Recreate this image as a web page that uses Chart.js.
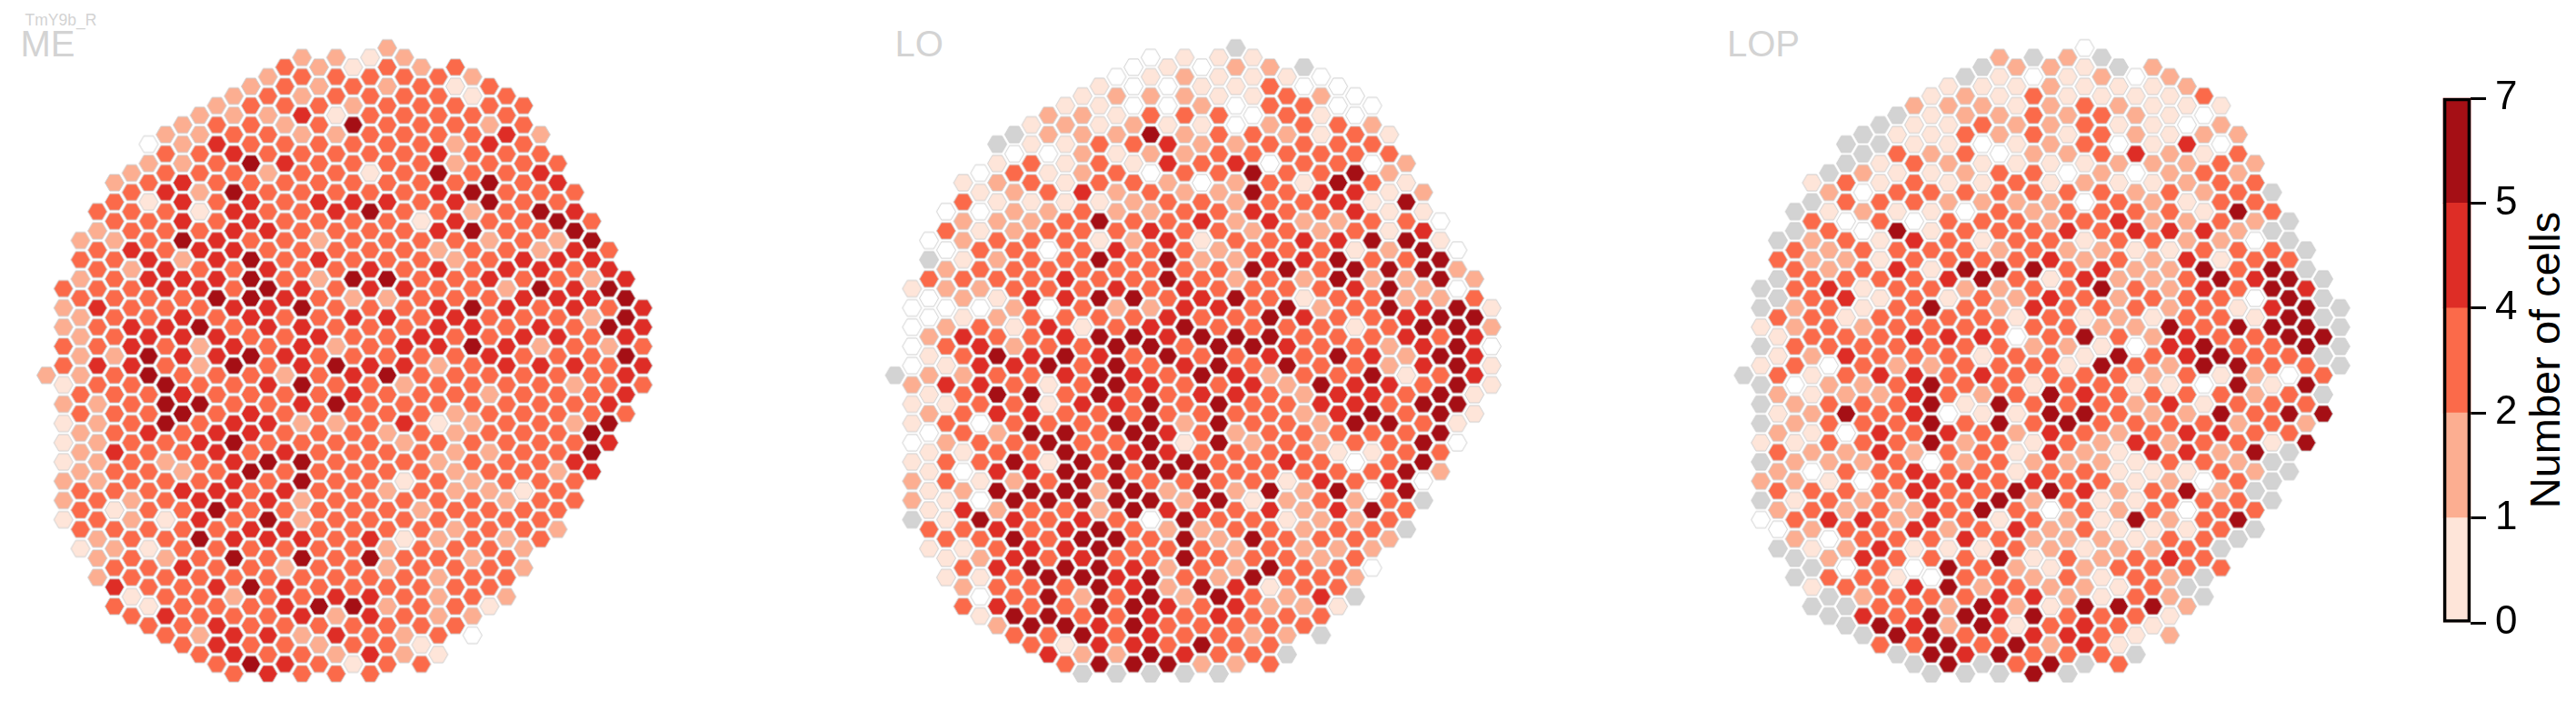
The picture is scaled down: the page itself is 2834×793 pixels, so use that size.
<!DOCTYPE html>
<html>
<head>
<meta charset="utf-8">
<script src="https://cdn.jsdelivr.net/npm/chart.js@4/dist/chart.umd.js"></script>
<style>
html,body{margin:0;padding:0;background:#fff;width:2834px;height:793px;overflow:hidden;font-family:"Liberation Sans",Arial,sans-serif}
canvas{position:absolute;top:0}
.t{position:absolute;white-space:nowrap;line-height:1}
.p{font-size:40px;color:#d3d3d3;top:27.5px}
</style>
</head>
<body>
<div class="t" style="left:27.5px;top:13.5px;font-size:17.5px;color:#d3d3d3">TmY9b_R</div>
<div class="t p" style="left:22.5px">ME</div>
<div class="t p" style="left:984.5px">LO</div>
<div class="t p" style="left:1900px">LOP</div>
<div class="t" id="cbt" style="left:2799px;top:396px;font-size:47px;color:#000;transform:translate(-50%,-50%) rotate(-90deg)">Number of cells</div>
<canvas id="c0"></canvas><canvas id="c1"></canvas><canvas id="c2"></canvas><canvas id="c3"></canvas>
<script>
// Each row: [first column, cell values at every second column]. g = no data (grey).
const ME_ROWS=[[20,"2"],[15,"2212"],[14,"321323"],[13,"2333332"],[12,"23232313"],[11,"232333313"],[10,"2333233333"],[9,"2224133333"],[8,"23323533323"],[7,"223322333342"],[6,"024333333243"],[7,"334333334333"],[6,"2235433332333"],[5,"2333233135334"],[4,"23433333333534"],[5,"34253333345333"],[4,"31434344434533"],[3,"333143345332354"],[4,"334343333143353"],[3,"233344333345335"],[2,"2235433233332325"],[3,"3434433333233243"],[2,"3342453433323444"],[3,"3243343343434434"],[2,"23444532553343324"],[1,"33344354344332545"],[2,"33335543223334445"],[1,"243334453334543434"],[2,"23343433443433325"],[1,"234453443334434354"],[2,"23444334334334434"],[1,"334324342344542323"],[2,"22544543333343335"],[1,"344325345442344434"],[0,"223533323453333334"],[1,"133533453323333233"],[2,"33343333433323334"],[1,"22355334533333334"],[2,"33353433333233333"],[1,"12353442234123325"],[2,"2343443332323335"],[1,"12334533332333334"],[2,"2433434333322335"],[1,"1232345533323334"],[2,"2332353333323324"],[1,"2233343533132333"],[2,"333443433232213"],[1,"2323444233333233"],[2,"313353333323333"],[1,"132143523333333"],[2,"333334433332332"],[3,"23354443412323"],[2,"12133333323332"],[3,"2323535353323"],[4,"3343323323332"],[3,"2333333333233"],[4,"433454333333"],[5,"133233443232"],[4,"313334552331"],[5,"34333424322"],[6,"3343333333"],[7,"3244243230"],[8,"34332331"],[9,"34332421"],[10,"3543133"],[11,"34333"]];
const LO_ROWS=[[20,"g"],[15,"0111"],[14,"01022g"],[13,"0121110"],[12,"10011300"],[11,"122211320"],[10,"1100203300"],[9,"2213330310"],[8,"12121102332"],[7,"g22252332131"],[6,"g11334223333"],[7,"002122333333"],[6,"1313143403302"],[5,"0312303353352"],[4,"12313320231531"],[5,"12342322534412"],[4,"31111233233415"],[3,"002232233433411"],[4,"222353342422330"],[3,"312333433232314"],[2,"0233312413344551"],[3,"0330343323331250"],[2,"g123353522445335"],[3,"2333333335535552"],[2,"33334335323252252"],[1,"12233343433334520"],[2,"02144553453133223"],[1,"000203224435235451"],[2,"01233334335433455"],[1,"023141345333313552"],[2,"24334554555333434"],[1,"034233553554332450"],[2,"13545435334354254"],[1,"014453534535332451"],[0,"g22334543542335134"],[1,"244313543342544351"],[2,"13553533443244351"],[1,"11331445353344355"],[2,"23443333333245351"],[1,"13033355253325531"],[2,"0325535432333335"],[1,"02335335152323350"],[2,"1133534433331133"],[1,"1335155553343035"],[2,"1044533553333352"],[1,"2312355333314340"],[2,"125552525252505"],[1,"210555552512323g"],[2,"142332544342453"],[1,"g15434305331223"],[2,"33434532233233g"],[3,"33535535253332"],[2,"11344533323222"],[3,"1243433533323"],[4,"3455542325330"],[3,"1135545325332"],[4,"233354254133"],[5,"03523525324g"],[4,"343355434221"],[5,"15533434333"],[6,"2554533333"],[7,"335343322g"],[8,"31443533"],[9,"4225433g"],[10,"3555223"],[11,"ggggg"]];
const LOP_ROWS=[[20,"0"],[15,"2g2g"],[14,"g221g2"],[13,"g101202"],[12,"11121112"],[11,"121311113"],[10,"2221232111"],[9,"g122323210"],[8,"g1132231102"],[7,"g11323132122"],[6,"gg1101230140"],[7,"g32302234213"],[6,"g132111122232"],[5,"g211233020232"],[4,"13131131211233"],[5,"2033333332323g"],[4,"g3332222032133"],[3,"g12110323333153"],[4,"30303332342232g"],[3,"g3051333434442g"],[2,"g23143133133220g"],[3,"323333232211333g"],[2,"3221333342324133"],[3,"323415553422535g"],[2,"g333345314223545g"],[1,"g3413322335324354"],[2,"g341313243233305g"],[1,"g2313532433323145g"],[2,"3313333131213315g"],[1,"12323333332253555g"],[2,"13334440353243355"],[1,"g3333333221045335g"],[2,"1243331331534533g"],[1,"13032233315325533g"],[0,"g31344343333231203"],[1,"g0223533133110515"],[2,"2122432354333323g"],[1,"g2333515333241333"],[2,"12534011553225355"],[1,"g2333535353333232"],[2,"2104343243234433"],[1,"11333523132423315"],[2,"322423314214425g"],[1,"g22230232221332g"],[2,"203343313311132g"],[1,"221034434331203g"],[2,"33334335542352g"],[1,"g13224352311333g"],[2,"232323530323033"],[1,"034424313215235"],[2,"02334234231113g"],[3,"2033343222133g"],[2,"g124111321223g"],[3,"g243335132343"],[4,"g030532123333"],[3,"g33103323132g"],[4,"13345232213g"],[5,"g2333442132g"],[4,"gg3325215552"],[5,"g4355453331"],[6,"g542513431"],[7,"g553344312"],[8,"33535241"],[9,"g545333g"],[10,"g5g35g3"],[11,"ggg5g"]];
const LEVELS=["g","0","1","2","3","4","5"];
const LEVEL_COLORS=["#d3d3d3","#ffffff","#fee5d9","#fcae91","#fb6a4a","#de2d26","#a50f15"];
const CB_TICKS=[0,1,2,4,5,7];
const CB_COLORS=["#fee5d9","#fcae91","#fb6a4a","#de2d26","#a50f15"];
const CB_TITLE="Number of cells";

const COL_PX=18.75, ROW_PX=10.59, TOP_PX=52.7, H=793;
const R=10.5;
function hexImage(color){
  const s=26,cv=document.createElement('canvas');cv.width=s;cv.height=s;
  const g=cv.getContext('2d');g.beginPath();
  for(let i=0;i<6;i++){const a=i*Math.PI/3;g[i?'lineTo':'moveTo'](s/2+R*Math.cos(a),s/2+R*Math.sin(a));}
  g.closePath();g.fillStyle=color;g.fill();
  g.strokeStyle='rgba(205,205,205,0.95)';g.lineWidth=1;g.stroke();
  return cv;
}
function panel(id,rows,left,width,origin){
  const cv=document.getElementById(id);cv.style.left=left+'px';cv.width=width;cv.height=H;
  const datasets=LEVELS.map((lv,i)=>({
    label:lv,
    data:rows.flatMap((r,h)=>[...r[1]].map((v,k)=>v===lv?{x:r[0]+2*k,y:h}:null).filter(Boolean)),
    pointStyle:hexImage(LEVEL_COLORS[i]),pointRadius:11,showLine:false
  }));
  new Chart(cv,{type:'scatter',data:{datasets},options:{
    responsive:false,animation:false,devicePixelRatio:1,
    layout:{padding:0,autoPadding:false},
    plugins:{legend:{display:false},tooltip:{enabled:false}},
    scales:{
      x:{type:'linear',display:false,min:(left-origin)/COL_PX,max:(left+width-origin)/COL_PX},
      y:{type:'linear',display:false,reverse:true,min:(0-TOP_PX)/ROW_PX,max:(H-TOP_PX)/ROW_PX}
    }}});
}
panel('c0',ME_ROWS,0,933,51);
panel('c1',LO_ROWS,933,934,984.6);
panel('c2',LOP_ROWS,1867,803,1918.4);

const cb=document.getElementById('c3');cb.style.left='2670px';cb.width=164;cb.height=H;
document.getElementById('cbt').textContent=CB_TITLE;
new Chart(cb,{type:'bar',data:{labels:[''],datasets:[
  ...CB_COLORS.map((c,i)=>({data:[[i,i+1]],backgroundColor:c,grouped:false,barPercentage:1,categoryPercentage:1,clip:false,order:2})),
  {data:[[0,CB_COLORS.length]],backgroundColor:'rgba(0,0,0,0)',borderColor:'#000',borderWidth:3,borderSkipped:false,grouped:false,barPercentage:1,categoryPercentage:1,clip:false,order:1}
]},options:{
  responsive:false,animation:false,devicePixelRatio:1,
  layout:{padding:{left:18,top:108,bottom:108,right:0}},
  plugins:{legend:{display:false},tooltip:{enabled:false}},
  scales:{
    x:{display:false},
    y:{position:'right',min:0,max:CB_COLORS.length,
      afterFit:s=>{s.width=116;},
      border:{display:false},
      grid:{drawOnChartArea:false,drawTicks:true,tickLength:17,tickWidth:3,tickColor:'#000'},
      ticks:{autoSkip:false,stepSize:1,padding:10,color:'#000',font:{family:'"Liberation Sans"',size:44},callback:v=>CB_TICKS[v]}
    }
  }}});
</script>
</body>
</html>
